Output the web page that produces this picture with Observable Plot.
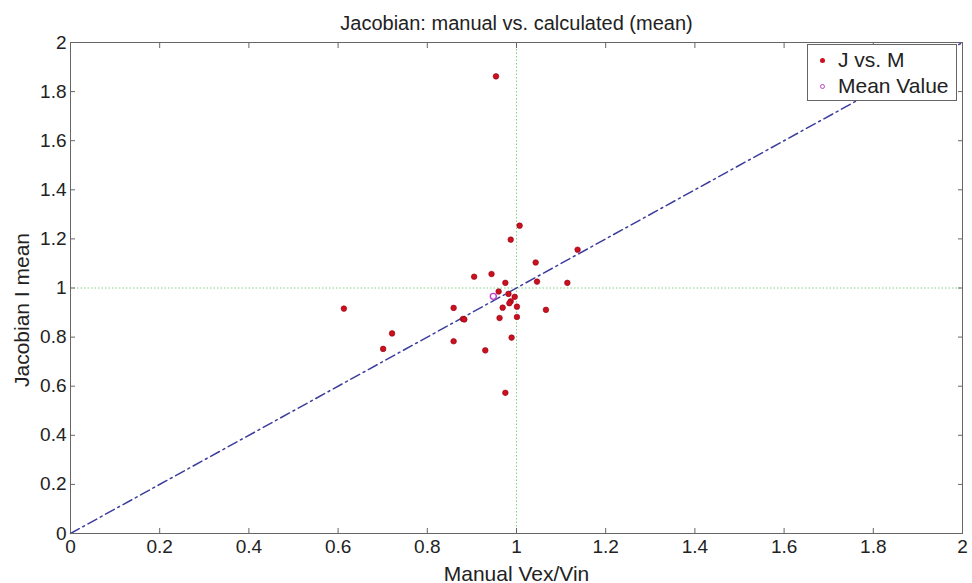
<!DOCTYPE html>
<html>
<head>
<meta charset="utf-8">
<script src="https://cdn.jsdelivr.net/npm/d3@7"></script>
<script src="https://cdn.jsdelivr.net/npm/@observablehq/plot@0.6"></script>
<style>
  body { margin: 0; background: #fff; }
  #wrap { position: relative; width: 972px; height: 583px; }
  #legend {
    position: absolute; left: 807px; top: 44px; width: 150px; height: 57px;
    border: 1px solid #666; background: #fff; box-sizing: border-box;
    font-family: "Liberation Sans", Arial, sans-serif; font-size: 21px; color: #222;
  }
  .item { position: absolute; left: 0; height: 26px; line-height: 26px; }
  .item span.t { position: absolute; left: 30px; white-space: nowrap; }
  .sym { position: absolute; left: 12px; top: 11px; width: 5px; height: 5px; border-radius: 50%; box-sizing: border-box; }
</style>
</head>
<body>
<div id="wrap"></div>
<script>
// Data
const manualX = [0.954, 1.007, 0.987, 1.137, 1.043, 0.905, 0.944, 0.975, 1.046, 1.114,
                 0.960, 0.982, 0.996, 0.987, 0.984, 0.969, 1.001, 0.859, 1.066, 0.880,
                 0.883, 0.962, 1.001, 0.859, 0.989, 0.930, 0.975, 0.613, 0.721, 0.701];
const jacobianY = [1.862, 1.254, 1.197, 1.156, 1.104, 1.046, 1.057, 1.021, 1.026, 1.021,
                   0.986, 0.976, 0.964, 0.946, 0.938, 0.920, 0.924, 0.919, 0.911, 0.874,
                   0.872, 0.878, 0.882, 0.783, 0.798, 0.746, 0.573, 0.916, 0.815, 0.752];
const meanX = [0.948];
const meanY = [0.966];
const diagX = [0, 2];
const diagY = [0, 2];
const refX = [1];
const refY = [1];
const xTicks = [0, 0.2, 0.4, 0.6, 0.8, 1, 1.2, 1.4, 1.6, 1.8, 2];
const yTicks = [0, 0.2, 0.4, 0.6, 0.8, 1, 1.2, 1.4, 1.6, 1.8, 2];
const titleText = ["Jacobian: manual vs. calculated (mean)"];
const xLabel = "Manual Vex/Vin";
const yLabel = "Jacobian I mean";
const legendLabels = ["J vs. M", "Mean Value"];

const points = manualX.map((x, i) => ({x, y: jacobianY[i]}));
const meanPts = meanX.map((x, i) => ({x, y: meanY[i]}));
const diag = diagX.map((x, i) => ({x, y: diagY[i]}));
const fmt = d => String(d);

const chart = Plot.plot({
  width: 972,
  height: 583,
  marginLeft: 70,
  marginRight: 10,
  marginTop: 42,
  marginBottom: 50,
  style: { fontFamily: "Liberation Sans, Arial, sans-serif", color: "#222", background: "#fff" },
  x: { domain: [0, 2] },
  y: { domain: [0, 2] },
  marks: [
    Plot.ruleX(refX, { stroke: "#7fd27f", strokeDasharray: "1.5,2", strokeWidth: 1 }),
    Plot.ruleY(refY, { stroke: "#7fd27f", strokeDasharray: "1.5,2", strokeWidth: 1 }),
    Plot.line(diag, { x: "x", y: "y", stroke: "#3c3c9e", strokeWidth: 1.5, strokeDasharray: "10,4,2,4" }),
    Plot.dot(points, { x: "x", y: "y", r: 2.8, fill: "#cc1020", stroke: "#900010", strokeWidth: 0.6 }),
    Plot.dot(meanPts, { x: "x", y: "y", r: 3, fill: "none", stroke: "#c040c8", strokeWidth: 1.4 }),
    Plot.frame({ stroke: "#666", strokeWidth: 1 }),
    Plot.axisX(xTicks, { anchor: "bottom", tickSize: -5, tickPadding: 11, tickFormat: fmt, fontSize: 19, stroke: "#666", fill: "#222", label: null }),
    Plot.axisX(xTicks, { anchor: "top", tickSize: -5, tickFormat: () => "", stroke: "#666", label: null }),
    Plot.axisY(yTicks, { anchor: "left", tickSize: -5, tickPadding: 9, tickFormat: fmt, fontSize: 19, stroke: "#666", fill: "#222", label: null }),
    Plot.axisY(yTicks, { anchor: "right", tickSize: -5, tickFormat: () => "", stroke: "#666", label: null }),
    Plot.text(titleText, { text: d => d, frameAnchor: "top", textAnchor: "middle", dy: -27, fontSize: 20, fill: "#222" }),
    Plot.text([xLabel], { text: d => d, frameAnchor: "bottom", textAnchor: "middle", lineAnchor: "bottom", dy: 47, fontSize: 21, fill: "#222" }),
    Plot.text([yLabel], { text: d => d, frameAnchor: "left", textAnchor: "middle", dx: -48, dy: 22, rotate: -90, fontSize: 21, fill: "#222" })
  ]
});

const wrap = document.getElementById("wrap");
wrap.appendChild(chart);

const legend = document.createElement("div");
legend.id = "legend";
const syms = [
  "background:#cc1020;",
  "border:1.4px solid #c040c8;"
];
legendLabels.forEach((lab, i) => {
  const it = document.createElement("div");
  it.className = "item";
  it.style.top = (2 + i * 26) + "px";
  it.innerHTML = `<div class="sym" style="${syms[i]}"></div><span class="t"></span>`;
  it.querySelector(".t").textContent = lab;
  it.style.width = "100%";
  legend.appendChild(it);
});
wrap.appendChild(legend);
</script>
</body>
</html>
